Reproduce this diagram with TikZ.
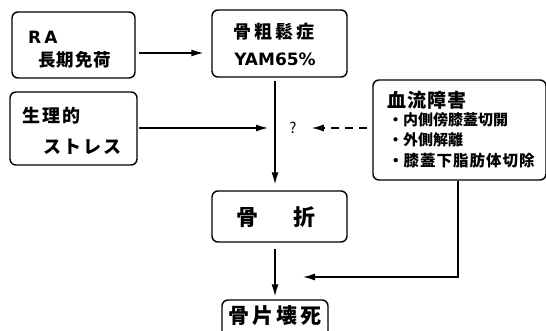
\documentclass[tikz,border=0pt]{standalone}
\usepackage{fontspec}
\setmainfont{Noto Sans CJK JP}
\newfontfamily\lat{DejaVu Sans}
\newcommand\kk[1]{\kern#1pt\relax}
\usetikzlibrary{arrows.meta,calc}
\begin{document}
\begin{tikzpicture}[x=1pt,y=-1pt,
  box/.style={draw, line width=1.4pt, rounded corners=6pt, inner sep=0pt},
  txt/.style={inner sep=0pt, font=\bfseries},
  arr/.style={line width=1.3pt, -{Latex[length=12pt,width=7pt]}}]
\useasboundingbox (0,0) rectangle (546,331);
\fill[white] (0,0) rectangle (546,331);
% boxes
\node[box, minimum width=123pt, minimum height=66pt] (ra) at (73.5,45) {};
\node[box, minimum width=135pt, minimum height=67pt] (ost) at (279.5,43.5) {};
\node[box, minimum width=127pt, minimum height=73pt] (str) at (73.5,128.5) {};
\node[box, minimum width=173pt, minimum height=100pt] (blood) at (459.5,130) {};
\node[box, minimum width=135pt, minimum height=51pt] (frac) at (279.5,216.5) {};
\node[box, minimum width=106pt, minimum height=44pt] (necro) at (275,322) {};
% texts
\node[txt, anchor=west, font=\bfseries\lat\fontsize{17}{17}\selectfont] (rat1) at (28,37) {R\kk{3}A};
\node[txt, anchor=west, font=\bfseries\fontsize{17.5}{17}\selectfont] (rat2) at (38,60) {長\kk{1}期\kk{1}免\kk{1}荷};
\node[txt, font=\bfseries\fontsize{18}{18}\selectfont] (ost1) at (274,32) {骨\kk{3}粗\kk{3}鬆\kk{3}症};
\node[txt, font=\bfseries\lat\fontsize{17}{17}\selectfont] (ost2) at (275,59) {YAM65\%};
\node[txt, anchor=west, font=\bfseries\fontsize{18}{18}\selectfont] (str1) at (22,116) {生\kk{2}理\kk{2}的};
\node[txt, anchor=west, font=\bfseries\fontsize{18}{18}\selectfont] (str2) at (43,147) {ス\kk{2}ト\kk{2}レ\kk{2}ス};
\node[txt, anchor=west, font=\bfseries\fontsize{19}{19}\selectfont] (b1) at (387,100) {血\kk{1}流\kk{1}障\kk{1}害};
\node[txt, anchor=west, font=\bfseries\fontsize{15}{15}\selectfont] (b2) at (388,120) {・内側傍膝蓋切開};
\node[txt, anchor=west, font=\bfseries\fontsize{15}{15}\selectfont] (b3) at (388,140) {・外側解離};
\node[txt, anchor=west, font=\bfseries\fontsize{15.5}{15}\selectfont] (b4) at (388,161) {・膝\kk{1}蓋\kk{1}下\kk{1}脂\kk{1}肪\kk{1}体\kk{1}切\kk{1}除};
\node[txt, font=\bfseries\fontsize{22}{22}\selectfont] (fract) at (276,217) {骨\hspace{36pt}折};
\node[txt, font=\bfseries\fontsize{21}{21}\selectfont] (necrot) at (275,316) {骨\kk{3}片\kk{3}壊\kk{3}死};
\node[inner sep=0pt, font=\fontsize{15}{15}\selectfont] (q) at (293,128) {?};
% coordinates
\coordinate (j) at (275,128);
\coordinate (m) at (303,277);
\coordinate (a1) at ($(ra.east)+(3,8)$);
% connectors
\draw[arr, shorten >=8pt] (a1) -- (a1 -| ost.west);
\draw[arr, shorten <=1pt, shorten >=7pt] (str.east |- j) -- (j);
\draw[arr, shorten <=3pt, shorten >=6pt] (ost.south -| j) -- (frac.north -| j);
\draw[arr, dash pattern=on 8pt off 6pt] ([xshift=-5pt]blood.west |- q.east) -- ([xshift=15pt]q.east);
\draw[arr, shorten <=6pt, shorten >=3pt] (frac.south -| j) -- (necro.north -| j);
\draw[arr] (blood.south -| 458,0) |- (m);
\end{tikzpicture}
\end{document}
